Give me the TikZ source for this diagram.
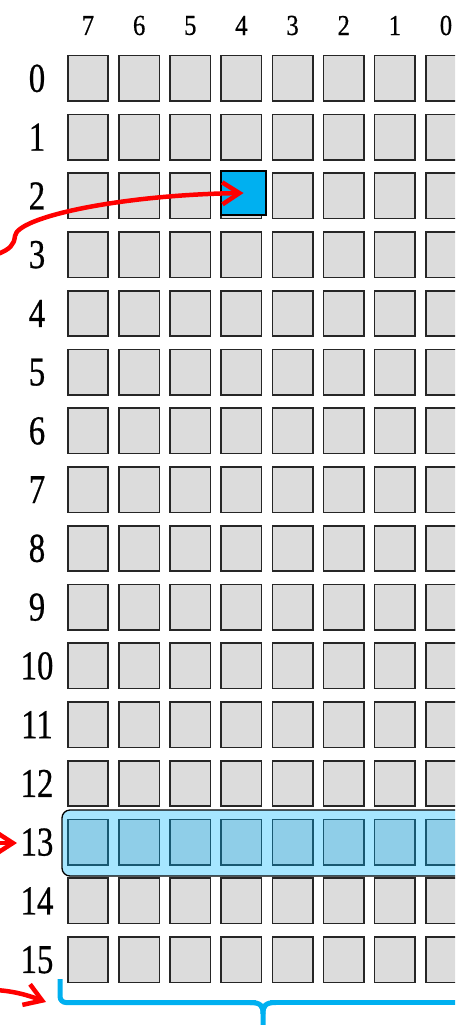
\documentclass[tikz,border=0pt]{standalone}
\usepackage{fontspec}
\usepackage{graphicx}
\setmainfont{Liberation Serif}
\newfontfamily\labfont{Liberation Serif}[FakeBold=0.7]
\usetikzlibrary{arrows.meta}
\definecolor{cellgray}{RGB}{220,220,220}
\definecolor{cellline}{RGB}{38,38,38}
\definecolor{hicyan}{RGB}{0,176,240}
\definecolor{rowblue}{RGB}{0,182,255}
\definecolor{arrowred}{RGB}{255,0,0}
\newcommand{\collab}[1]{\scalebox{0.85}[1]{#1}}
\newcommand{\rowlab}[1]{\scalebox{0.8}[1]{#1}}
\begin{document}
\begin{tikzpicture}[x=1pt,y=-1pt,
  cell/.style={draw=cellline, fill=cellgray, line width=1.6pt,
    minimum width=40.4pt, minimum height=45.4pt, inner sep=0pt},
  selcell/.style={draw=black, fill=hicyan, line width=1.8pt,
    minimum width=45pt, minimum height=44pt, inner sep=0pt},
  collbl/.style={inner sep=0pt, font=\labfont\fontsize{29}{29}\selectfont},
  rowlbl/.style={inner sep=0pt, font=\labfont\fontsize{41}{41}\selectfont},
  rowhl/.style={draw=black, line width=1.3pt, fill=rowblue, fill opacity=0.35,
    draw opacity=1, rounded corners=8pt, minimum width=408pt,
    minimum height=66pt, inner sep=0pt},
  redarrow/.style={draw=arrowred, line width=4.5pt,
    -{Straight Barb[length=17pt,width=22pt,line width=4.5pt]}},
  brace/.style={draw=hicyan, line width=5pt}]
\useasboundingbox (0,0) rectangle (455,1025);
\clip (0,0) rectangle (455,1025);
% column labels
\foreach \i in {0,...,7}{
  \pgfmathtruncatemacro{\lab}{7-\i}
  \node[collbl] (col\lab) at ({88+51.14*\i},25.5) {\collab{\lab}};
}
% rows of cells and row labels
\foreach \r in {0,...,15}{
  \node[rowlbl] (row\r) at (37,{78.4+58.75*\r}) {\rowlab{\r}};
  \foreach \i in {0,...,7}{
    \pgfmathtruncatemacro{\lab}{7-\i}
    \node[cell] (c-\r-\lab) at ({88+51.14*\i},{78.4+58.75*\r}) {};
  }
}
% selected cell (row 2, bit 4)
\node[selcell] (sel) at (243.5,193) {};
% highlighted row 13
\node[rowhl] (hl13) at (266,843) {};
% red arrows
\coordinate (a1s) at (-2,254);
\coordinate (a1k) at (15,236);
\draw[redarrow] (a1s) .. controls (10,249) and (14,245) .. (a1k)
  .. controls (17,217) and (120,195) .. (sel.center);
\coordinate (a2s) at (-10,843);
\coordinate (a2e) at (17,843);
\draw[redarrow] (a2s) -- (a2e);
\coordinate (a3s) at (-5,990);
\coordinate (a3e) at (46,1002);
\draw[redarrow] (a3s) .. controls (15,991) and (30,996) .. (a3e);
% blue brace
\coordinate (bL) at (60,979);
\coordinate (bM) at (263,1002.5);
\coordinate (bB) at (263,1030);
\coordinate (bR) at (470,1002.5);
\draw[brace, rounded corners=6pt] (bL) -- (60,1002.5) -- (256,1002.5);
\draw[brace] (250,1002.5) .. controls (261,1002.5) and (263,1006) .. (263,1014) -- (bB);
\draw[brace] (276,1002.5) .. controls (265,1002.5) and (263,1006) .. (263,1014);
\draw[brace] (270,1002.5) -- (bR);
\end{tikzpicture}
\end{document}
